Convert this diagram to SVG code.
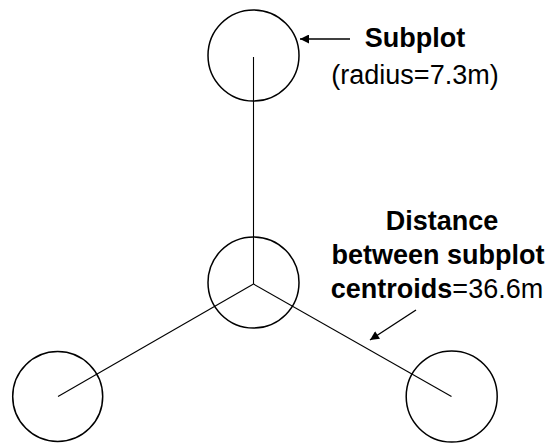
<svg xmlns="http://www.w3.org/2000/svg" width="552" height="443" viewBox="0 0 552 443">
<style>
.c{fill:none;stroke:#000;stroke-width:1.5}
.s{stroke:#000;stroke-width:1.1;fill:none}
.a{stroke:#000;stroke-width:1.4;fill:none}
.t{font-family:"Liberation Sans",Arial,sans-serif;font-size:27px;fill:#000;text-anchor:middle}
.b{font-weight:bold}
</style>
<defs>
<marker id="ah" viewBox="0 0 10 10" refX="10" refY="5" markerWidth="11" markerHeight="9" markerUnits="userSpaceOnUse" orient="auto">
<path d="M0,0 L10,5 L0,10 z" fill="#000"/>
</marker>
</defs>
<g id="connectors">
<line class="s" x1="253.5" y1="284" x2="253.5" y2="57"/>
<line class="s" x1="253.5" y1="284" x2="58" y2="396.5"/>
<line class="s" x1="253.5" y1="284" x2="451.5" y2="396.5"/>
<line class="a" x1="350" y1="39" x2="300" y2="39" marker-end="url(#ah)"/>
<line class="a" x1="416" y1="310" x2="370" y2="340" marker-end="url(#ah)"/>
</g>
<g id="subplot-top"><circle class="c" cx="253.5" cy="55.5" r="45.5"/></g>
<g id="subplot-center"><circle class="c" cx="253.5" cy="282.5" r="45.5"/></g>
<g id="subplot-left"><circle class="c" cx="57.7" cy="396.5" r="45"/></g>
<g id="subplot-right"><circle class="c" cx="451.7" cy="396.5" r="45.5"/></g>
<g id="label-subplot">
<text class="t b" x="415" y="47">Subplot</text>
<text class="t" x="415" y="84">(radius=7.3m)</text>
</g>
<g id="label-distance">
<text class="t b" x="442" y="230">Distance</text>
<text class="t b" x="438" y="264">between subplot</text>
<text class="t" x="437" y="298"><tspan class="b">centroids</tspan>=36.6m</text>
</g>
</svg>
